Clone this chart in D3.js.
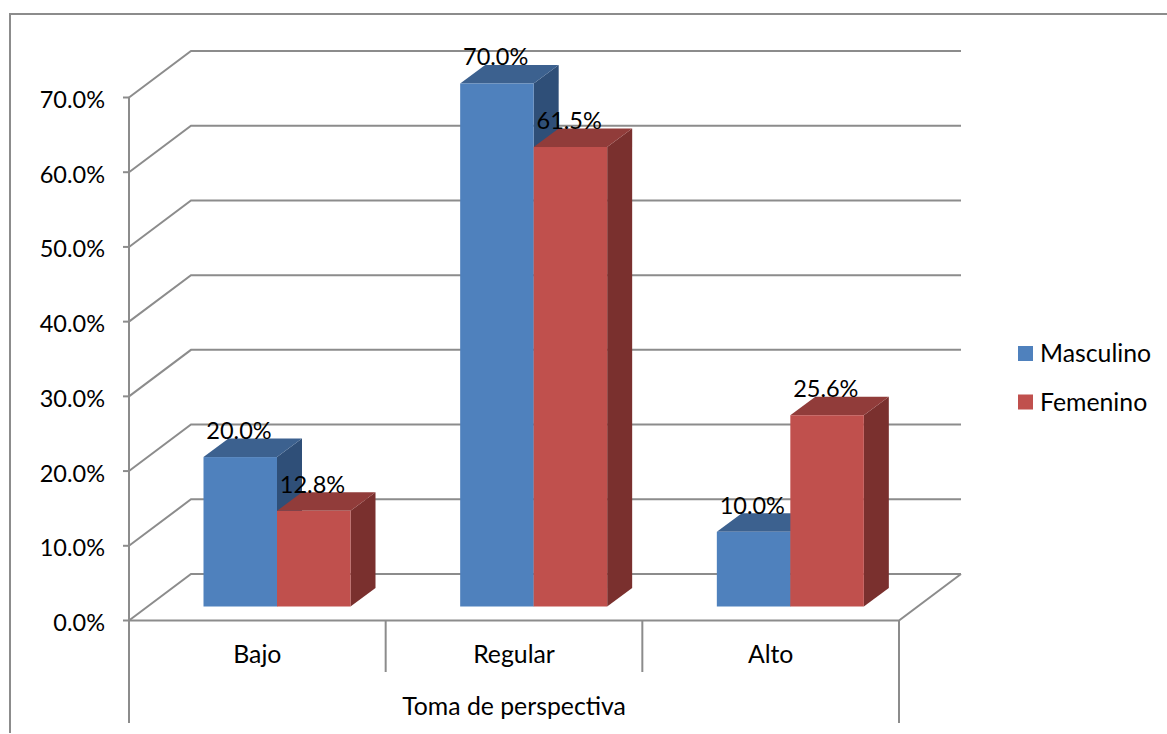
<!DOCTYPE html>
<html>
<head>
<meta charset="utf-8">
<script src="https://cdnjs.cloudflare.com/ajax/libs/d3/7.8.5/d3.min.js"></script>
<style>
html, body { margin: 0; padding: 0; background: #fff; }
svg { display: block; }
text { font-family: Lato, "Open Sans", sans-serif; fill: #000; }
</style>
</head>
<body>
<svg id="chart" width="1167" height="734"></svg>
<script>
const categories = ["Bajo", "Regular", "Alto"];
const seriesNames = ["Masculino", "Femenino"];
const masculino = [20.0, 70.0, 10.0];
const femenino = [12.8, 61.5, 25.6];
const tickValues = [0, 10, 20, 30, 40, 50, 60, 70];
const axisTitle = "Toma de perspectiva";

const frontColors = ["#4F81BD", "#C0504D"];
const topColors = ["#3C618F", "#913C3A"];
const sideColors = ["#2F4F78", "#7A302E"];
const lineColor = "#8C8C8C";
const fontSize = 23.5;
const wordFontSize = 24.8;

const svg = d3.select("#chart");
const y = d3.scaleLinear().domain([0, 70]).range([620.5, 97.5]);
const x = d3.scaleBand().domain(categories).range([129, 899]);
const xInner = d3.scaleBand().domain(seriesNames).range([74.5, 221.5]);

// Depth of the chart box and of each bar in the oblique projection
const wallDx = 62, wallDy = -46.5;
const barDx = 25, barDy = -18.5;
const barBaseShift = -14;

const fmt = v => v.toFixed(1) + "%";

// Gridlines run up the side wall and across the back wall
const grid = svg.append("g").attr("fill", "none").attr("stroke", lineColor).attr("stroke-width", 2);
const gridLine = d3.line();
grid.selectAll("path").data(tickValues).join("path")
  .attr("d", t => gridLine([
    [x.range()[0], y(t)],
    [x.range()[0] + wallDx, y(t) + wallDy],
    [x.range()[1] + wallDx, y(t) + wallDy]
  ]));
// Front and right edge of the floor
grid.append("path").attr("d", gridLine([
  [x.range()[0], y(0)],
  [x.range()[1], y(0)],
  [x.range()[1] + wallDx, y(0) + wallDy]
]));

// Value axis
const axis = svg.append("g").attr("stroke", lineColor).attr("stroke-width", 2);
axis.append("line").attr("x1", 129).attr("x2", 129).attr("y1", y(70)).attr("y2", y(0));
axis.selectAll("line.tick").data(tickValues).join("line").attr("class", "tick")
  .attr("x1", 123).attr("x2", 129).attr("y1", y).attr("y2", y);
svg.append("g").selectAll("text").data(tickValues).join("text")
  .attr("x", 105).attr("y", t => y(t) + 2).attr("dy", "0.36em")
  .attr("text-anchor", "end").attr("font-size", fontSize)
  .text(t => fmt(t));

// Two-level category axis separators: the outer ones reach the title row
const separators = [...categories.map(c => x(c)), x.range()[1]];
axis.selectAll("line.sep").data(separators).join("line").attr("class", "sep")
  .attr("x1", d => d).attr("x2", d => d)
  .attr("y1", y(0)).attr("y2", (d, i) => (i === 0 || i === categories.length ? 723 : 672));

svg.append("g").selectAll("text").data(categories).join("text")
  .attr("x", c => x(c) + x.bandwidth() / 2).attr("y", 654)
  .attr("dy", "0.36em").attr("text-anchor", "middle").attr("font-size", wordFontSize)
  .text(c => c);
svg.append("text").attr("x", 514).attr("y", 706).attr("dy", "0.36em")
  .attr("text-anchor", "middle").attr("font-size", wordFontSize).text(axisTitle);

// 3D bars: side, top, then front face of each column
const rows = categories.flatMap((c, i) => [
  { cat: c, s: 0, value: masculino[i] },
  { cat: c, s: 1, value: femenino[i] }
]);
const poly = pts => gridLine(pts) + "Z";
const bars = svg.append("g").selectAll("g").data(rows).join("g");
const barLeft = d => x(d.cat) + xInner(seriesNames[d.s]);
const barRight = d => barLeft(d) + xInner.bandwidth();
const barBase = y(0) + barBaseShift;
const barTop = d => y(d.value) + barBaseShift;

bars.append("path").attr("fill", d => sideColors[d.s]).attr("d", d => poly([
  [barRight(d), barTop(d)], [barRight(d) + barDx, barTop(d) + barDy],
  [barRight(d) + barDx, barBase + barDy], [barRight(d), barBase]
]));
bars.append("path").attr("fill", d => topColors[d.s]).attr("d", d => poly([
  [barLeft(d), barTop(d)], [barLeft(d) + barDx, barTop(d) + barDy],
  [barRight(d) + barDx, barTop(d) + barDy], [barRight(d), barTop(d)]
]));
bars.append("rect").attr("fill", d => frontColors[d.s])
  .attr("x", barLeft).attr("y", barTop)
  .attr("width", xInner.bandwidth()).attr("height", d => barBase - barTop(d));

// Value labels sit over the top face of each bar
svg.append("g").selectAll("text").data(rows).join("text")
  .attr("x", d => barLeft(d) + 35.5).attr("y", d => barTop(d) + barDy - 8)
  .attr("dy", "0.36em").attr("text-anchor", "middle").attr("font-size", fontSize)
  .text(d => fmt(d.value));

// Legend
const legend = svg.append("g").selectAll("g").data(seriesNames).join("g");
legend.append("rect").attr("x", 1018).attr("y", (d, i) => 346 + i * 48.5)
  .attr("width", 15).attr("height", 15).attr("fill", (d, i) => frontColors[i]);
legend.append("text").attr("x", 1040).attr("y", (d, i) => 353.5 + i * 48.5)
  .attr("dy", "0.36em").attr("font-size", wordFontSize).text(d => d);

// Chart area border: only the left and top edges fall inside the page
svg.append("path").attr("fill", "none").attr("stroke", lineColor).attr("stroke-width", 2)
  .attr("d", gridLine([[10, 733], [10, 14], [1167, 14]]));
</script>
</body>
</html>
